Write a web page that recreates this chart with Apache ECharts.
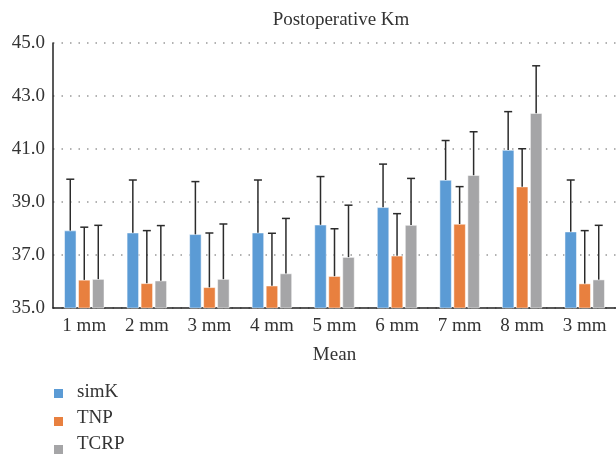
<!DOCTYPE html>
<html>
<head>
<meta charset="utf-8">
<script src="https://cdn.jsdelivr.net/npm/echarts@6/dist/echarts.min.js"></script>
<style>
html, body { margin: 0; padding: 0; background: #fff; }
#chart { width: 616px; height: 457px; }
</style>
</head>
<body>
<div id="chart"></div>
<script>
var categories = ['1 mm', '2 mm', '3 mm', '4 mm', '5 mm', '6 mm', '7 mm', '8 mm', '3 mm'];
var seriesNames = ['simK', 'TNP', 'TCRP'];
var simK = [37.92, 37.84, 37.78, 37.84, 38.14, 38.80, 39.83, 40.96, 37.88];
var tnp = [36.06, 35.93, 35.78, 35.84, 36.20, 36.97, 38.17, 39.58, 35.92];
var tcrp = [36.09, 36.03, 36.09, 36.30, 36.92, 38.13, 40.01, 42.35, 36.07];
// 误差线（标准差，仅向上）
var simKSd = [1.94, 1.99, 1.99, 1.99, 1.82, 1.63, 1.49, 1.45, 1.95];
var tnpSd = [1.99, 1.99, 2.05, 1.98, 1.79, 1.59, 1.41, 1.43, 2.00];
var tcrpSd = [2.03, 2.08, 2.08, 2.08, 1.96, 1.76, 1.64, 1.79, 2.05];
var yTicks = [35, 37, 39, 41, 43, 45];

var font = '"Liberation Serif", "DejaVu Serif", serif';
var barWidth = 12;
var barGap = 2;
var legendTop = 383;
var legendRow = 26;

function errorData(means, sds) {
    var out = [];
    for (var i = 0; i < means.length; i++) {
        out.push([i, means[i], means[i] + sds[i]]);
    }
    return out;
}

function errorSeries(name, means, sds, pos) {
    return {
        name: name + ' err',
        type: 'custom',
        z: 5,
        silent: true,
        data: errorData(means, sds),
        renderItem: function (params, api) {
            var off = pos * (barWidth + barGap);
            var base = api.coord([api.value(0), api.value(1)]);
            var top = api.coord([api.value(0), api.value(2)]);
            var x = base[0] + off;
            var style = { stroke: '#2b2b2b', lineWidth: 1.5 };
            return {
                type: 'group',
                children: [
                    { type: 'line', shape: { x1: x, y1: base[1], x2: x, y2: top[1] }, style: style },
                    { type: 'line', shape: { x1: x - 4, y1: top[1], x2: x + 4, y2: top[1] }, style: style }
                ]
            };
        }
    };
}

// 图例文字用 graphic 画（图例自带文字不吃衬线字体）
var legendTexts = [];
for (var i = 0; i < seriesNames.length; i++) {
    legendTexts.push({
        type: 'text',
        x: 77,
        y: legendTop + 9.5 + i * legendRow,
        silent: true,
        style: {
            text: seriesNames[i],
            font: '19px ' + font,
            fill: '#333',
            verticalAlign: 'middle'
        }
    });
}

var myChart = echarts.init(document.getElementById('chart'));
var option = {
    animation: false,
    textStyle: { fontFamily: font },
    title: {
        text: 'Postoperative Km',
        left: 336,
        textAlign: 'center',
        top: 6,
        textStyle: { fontFamily: font, fontSize: 19, fontWeight: 'normal', color: '#333' }
    },
    legend: {
        data: seriesNames,
        orient: 'vertical',
        left: 52,
        top: legendTop + 4,
        padding: 0,
        height: 74,
        icon: 'rect',
        itemWidth: 11,
        itemHeight: 11,
        itemGap: legendRow - 11,
        formatter: function () { return ''; },
        textStyle: { fontSize: 11 }
    },
    graphic: legendTexts,
    grid: { left: 53, right: 0, top: 43, bottom: 149 },
    xAxis: {
        type: 'category',
        data: categories,
        name: 'Mean',
        nameLocation: 'middle',
        nameGap: 38,
        nameTextStyle: { fontFamily: font, fontSize: 19, color: '#333' },
        axisLine: { lineStyle: { color: '#222', width: 1.5 } },
        axisTick: { show: false },
        axisLabel: { fontFamily: font, fontSize: 19, color: '#333', margin: 9, interval: 0 }
    },
    yAxis: {
        type: 'value',
        min: yTicks[0],
        max: yTicks[yTicks.length - 1],
        interval: 2,
        axisLine: { show: true, lineStyle: { color: '#222', width: 1.5 } },
        axisTick: { show: false },
        axisLabel: {
            fontFamily: font, fontSize: 19, color: '#333', margin: 8,
            formatter: function (v) { return v.toFixed(1); }
        },
        splitLine: { lineStyle: { type: [1.5, 7], color: '#999', width: 1.5 } }
    },
    series: [
        {
            name: seriesNames[0], type: 'bar', data: simK, barWidth: barWidth, barGap: (barGap / barWidth * 100) + '%',
            itemStyle: { color: '#5B9BD5', borderColor: '#fff', borderWidth: 0.5 }
        },
        {
            name: seriesNames[1], type: 'bar', data: tnp, barWidth: barWidth,
            itemStyle: { color: '#E8803F', borderColor: '#fff', borderWidth: 0.5 }
        },
        {
            name: seriesNames[2], type: 'bar', data: tcrp, barWidth: barWidth,
            itemStyle: { color: '#A5A5A7', borderColor: '#fff', borderWidth: 0.5 }
        },
        errorSeries('simK', simK, simKSd, -1),
        errorSeries('TNP', tnp, tnpSd, 0),
        errorSeries('TCRP', tcrp, tcrpSd, 1)
    ]
};
myChart.setOption(option);
</script>
</body>
</html>
